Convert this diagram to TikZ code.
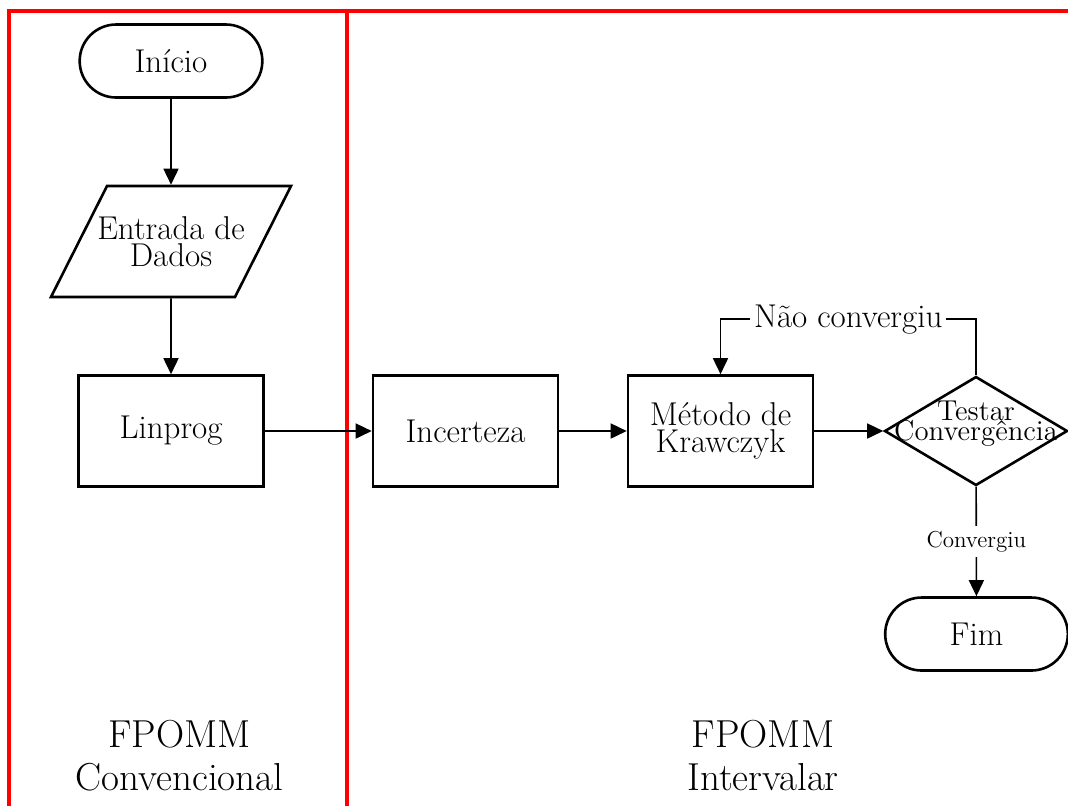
\documentclass[tikz,border=0pt]{standalone}
\usepackage{amsmath,amssymb}
\usepackage{tikz}
\usetikzlibrary{positioning,arrows.meta,shapes}
\def\bloco{\fontsize{16.5}{13.5}\selectfont\lineskiplimit=-5pt}
\def\teste{\fontsize{14.4}{10}\selectfont\lineskiplimit=-5pt}
\def\rot{\fontsize{11.5}{13}\selectfont}
\def\fundo{\fontsize{19.5}{21.5}\selectfont}

\begin{document}
\begin{tikzpicture}[>={Triangle[width=7.5pt,length=8pt]}, line width=0.8pt, terminal/.style={draw, rounded rectangle, line width=1.3pt, minimum width=98pt, minimum height=36.5pt, font=\bloco}, entrada/.style={draw, rectangle, xslant=0.5045, line width=1.3pt, minimum width=92pt, minimum height=55.5pt}, processo/.style={draw, rectangle, line width=1.3pt, minimum width=92.5pt, minimum height=55.5pt, align=center, font=\bloco}, decisao/.style={draw, diamond, inner sep=0pt, line width=1.3pt, minimum width=91.5pt, minimum height=54.5pt}, texto/.style={align=center, font=\bloco}, moldura/.style={draw=red, line width=2pt}, fundo/.style={align=center, font=\fundo, inner sep=0pt}]
\useasboundingbox (0pt, 0pt) rectangle (534pt, -402.5pt);
\clip (0pt, 0pt) rectangle (534pt, -402.5pt);
% molduras
\draw[moldura] (4.25pt, -5.25pt) rectangle (173.5pt, -430pt);
\draw[moldura] (173.5pt, -5.25pt) rectangle (560pt, -430pt);
% blocos
\draw (85.5pt, -30.5pt)node[terminal](inicio){Início};
\draw (85.5pt, -120.75pt)node[entrada](dados){};
\node[texto](dadostxt) at (dados){Entrada de\\Dados};
\draw (85.5pt, -215.5pt)node[processo](linprog){Linprog};
\draw (232.75pt, -215.5pt)node[processo](incerteza){Incerteza};
\draw (360.25pt, -215.5pt)node[processo](krawczyk){Método de\\Krawczyk};
\draw (488pt, -215.5pt)node[decisao](conv){};
\node[texto, font=\teste, yshift=3.8pt](convtxt) at (conv){Testar\\Convergência};
\draw (488.25pt, -317pt)node[terminal](fim){Fim};
\draw (89.75pt, -377.75pt)node[fundo](conv1){FPOMM\\Convencional};
\draw (381.5pt, -377.75pt)node[fundo](inter){FPOMM\\Intervalar};
% ligacoes
\path[->] (inicio) edge (dados);
\path[->] (dados) edge (linprog);
\path[->] (linprog) edge (incerteza);
\path[->] (incerteza) edge (krawczyk);
\path[->] (krawczyk) edge (conv);
\path[->] (conv) edge node[fill=white, font=\rot, inner sep=2.5pt]{Convergiu}(fim);
\draw[->] (conv.north) -- ++(0pt, 28pt) -| node[pos=0.25, fill=white, font=\bloco, inner sep=2pt]{Não convergiu}(krawczyk.north);
\end{tikzpicture}
\end{document}
